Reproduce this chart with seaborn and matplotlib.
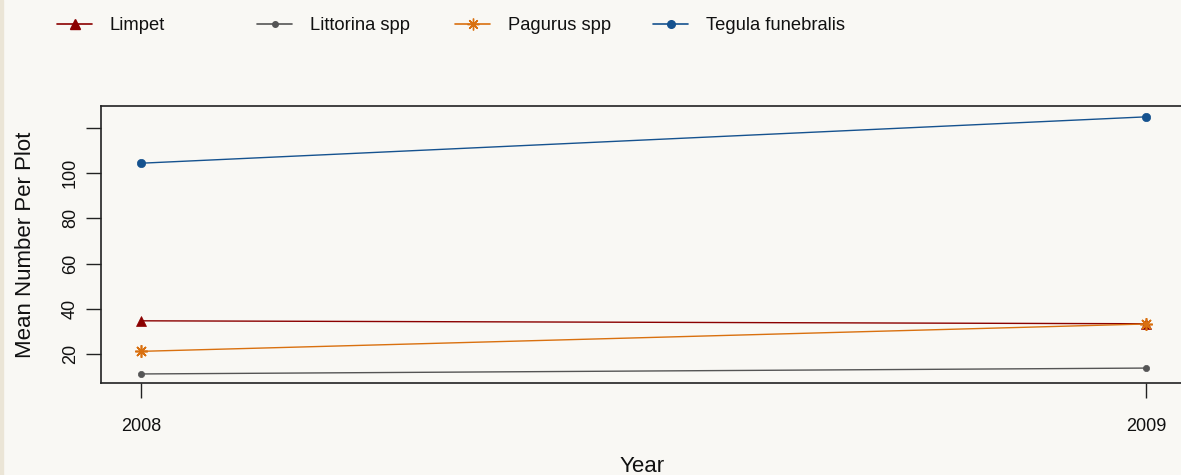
import matplotlib
matplotlib.use("Agg")
import matplotlib.pyplot as plt
from matplotlib.lines import Line2D
from matplotlib.patches import Rectangle
import seaborn as sns
import pandas as pd

years = [2008, 2009]
species = ["Limpet", "Littorina spp", "Pagurus spp", "Tegula funebralis"]
limpet = [34.7, 33.4]
littorina = [11.2, 13.8]
pagurus = [21.2, 33.3]
tegula = [104.4, 124.9]

colors = {"Limpet": "#8b0000", "Littorina spp": "#555555",
          "Pagurus spp": "#d9700f", "Tegula funebralis": "#15528f"}
markers = {"Limpet": "^", "Littorina spp": "o", "Pagurus spp": (8, 2, 0),
           "Tegula funebralis": "o"}
msizes = {"Limpet": 7, "Littorina spp": 4.5, "Pagurus spp": 9, "Tegula funebralis": 6}

rows = []
for sp, vals in zip(species, [limpet, littorina, pagurus, tegula]):
    for y, v in zip(years, vals):
        rows.append({"Year": y, "Mean": v, "Species": sp})
df = pd.DataFrame(rows)

sns.set_theme(style="white")
plt.rcParams['font.family'] = ['Liberation Sans', 'DejaVu Sans']
bg = "#f9f8f4"
W, H = 1181, 475
fig = plt.figure(figsize=(W / 100, H / 100), dpi=100, facecolor=bg)
fig.add_artist(Rectangle((0, 0), 3 / W, 1, transform=fig.transFigure,
                         color="#ebe5d6", zorder=0))
axw_px = W - 101 + 2
ax = fig.add_axes([101 / W, 1 - 383 / H, axw_px / W, (383 - 106) / H])
ax.set_facecolor(bg)

for sp in species:
    sub = df[df.Species == sp]
    sns.lineplot(data=sub, x="Year", y="Mean", ax=ax, color=colors[sp],
                 marker=markers[sp], markersize=msizes[sp], markeredgecolor=colors[sp],
                 markeredgewidth=1.2 if sp == "Pagurus spp" else 0.5,
                 linewidth=1.0, legend=False)

ax.set_xlim(2007.96, 2009.037)
ax.set_ylim(7.2, 129.7)
ax.set_xticks(years)
ax.set_xticklabels([str(y) for y in years], fontsize=13, color="#111111")
ax.set_yticks([20, 40, 60, 80, 100, 120])
ax.set_yticklabels(["20", "40", "60", "80", "100", ""], fontsize=13, rotation=90,
                   va="center", color="#111111")
ax.tick_params(axis="x", direction="out", length=11, width=1, color="#222222", pad=14.4, bottom=True)
ax.tick_params(axis="y", direction="out", length=11, width=1, color="#222222", pad=5, left=True)
for s in ax.spines.values():
    s.set_color("#222222")
    s.set_linewidth(1.2)
ax.set_xlabel("Year", fontsize=16, color="#111111")
ax.set_ylabel("Mean Number Per Plot", fontsize=16, color="#111111")
ax.xaxis.set_label_coords((642 - 101) / axw_px, (383 - 456) / 277)
ax.yaxis.set_label_coords((36 - 101) / axw_px, 0.5)

xpos = [57, 257, 455, 653]
for sp, xp in zip(species, xpos):
    h = Line2D([], [], color=colors[sp], marker=markers[sp], markersize=msizes[sp] - 0.5,
               markeredgecolor=colors[sp], linewidth=1.2)
    fig.legend([h], [sp], loc="center left", bbox_to_anchor=(xp / W, 1 - 26 / H),
               frameon=False, fontsize=13.2, handlelength=1.91, handletextpad=0.98,
               borderaxespad=0, borderpad=0, labelcolor="#111111")

fig.savefig("out.png", dpi=100, facecolor=bg)
